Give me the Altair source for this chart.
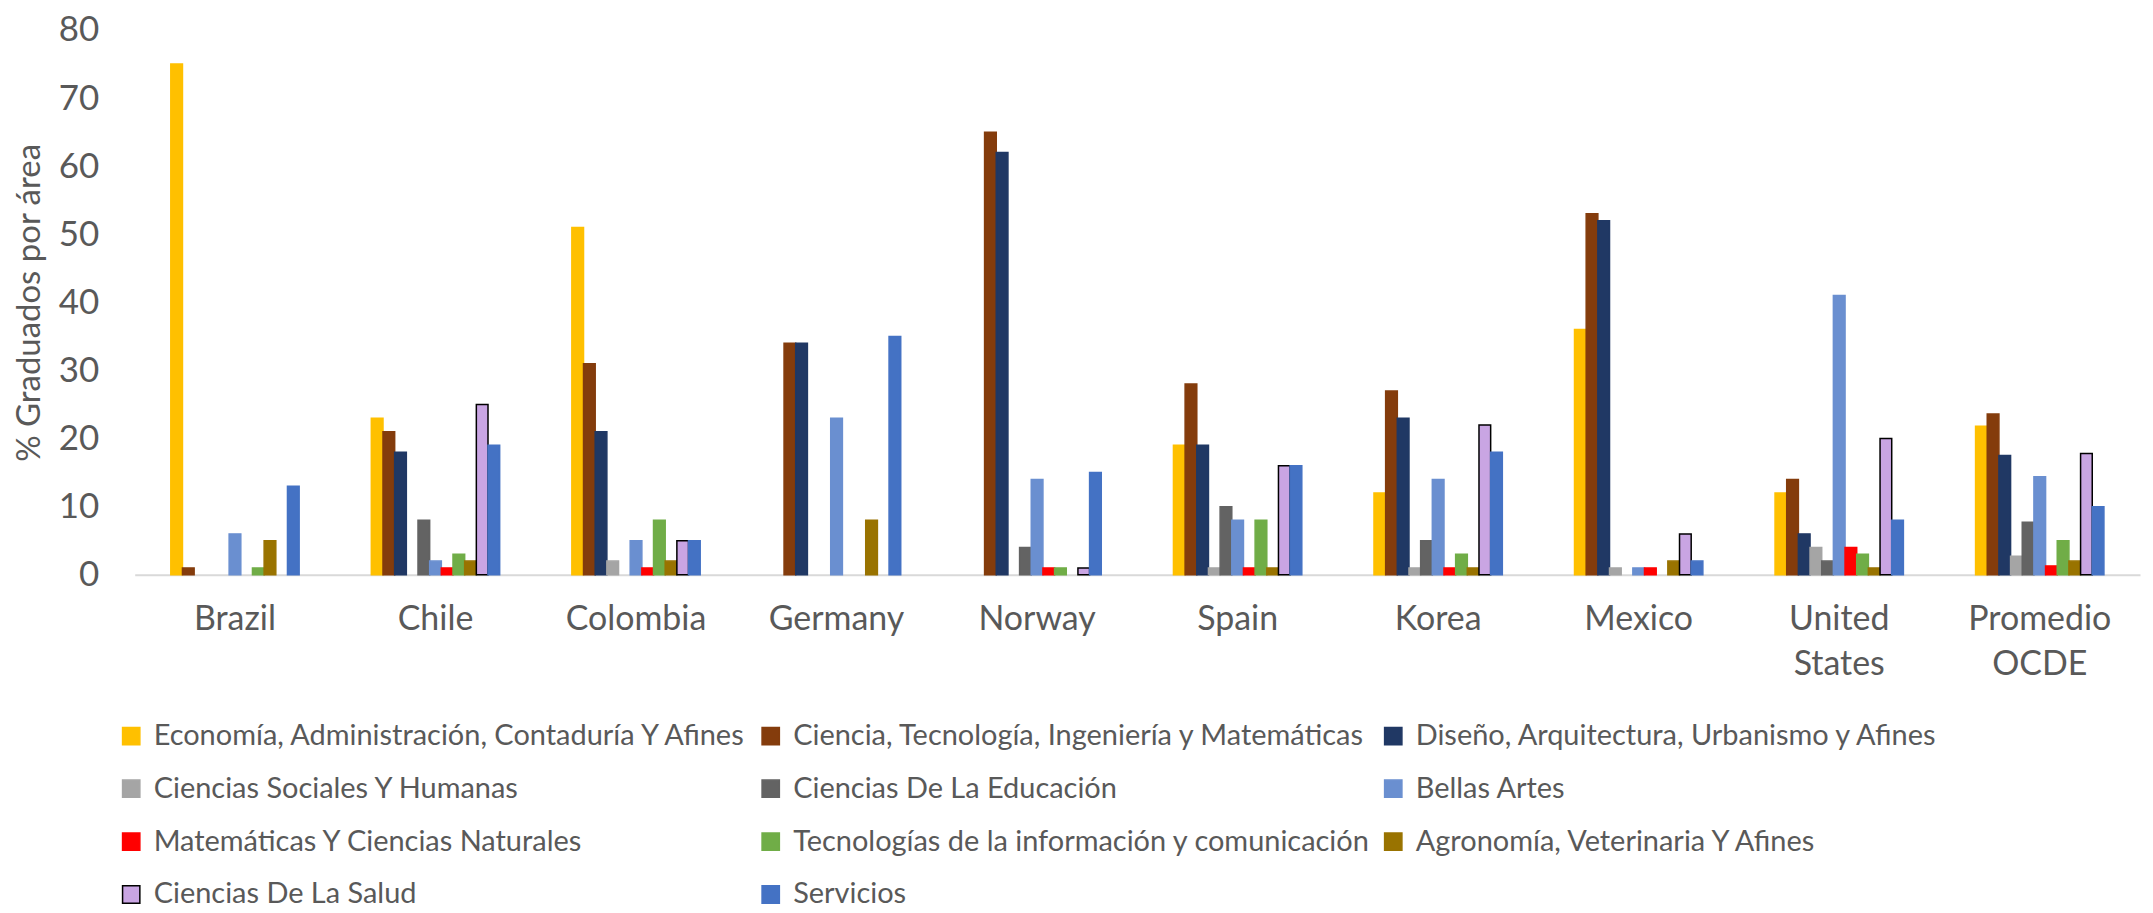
import altair as alt
import pandas as pd

countries = ["Brazil", "Chile", "Colombia", "Germany", "Norway", "Spain",
             "Korea", "Mexico", "United States", "Promedio OCDE"]

areas = [
    "Economía, Administración, Contaduría Y Afines",
    "Ciencia, Tecnología, Ingeniería y Matemáticas",
    "Diseño, Arquitectura, Urbanismo y Afines",
    "Ciencias Sociales Y Humanas",
    "Ciencias De La Educación",
    "Bellas Artes",
    "Matemáticas Y Ciencias Naturales",
    "Tecnologías de la información y comunicación",
    "Agronomía, Veterinaria Y Afines",
    "Ciencias De La Salud",
    "Servicios",
]

economia   = [75, 23, 51, 0, 0, 19, 12, 36, 12, 21.8]
ciencia    = [1, 21, 31, 34, 65, 28, 27, 53, 14, 23.6]
diseno     = [0, 18, 21, 34, 62, 19, 23, 52, 6, 17.5]
sociales   = [0, 0, 2, 0, 0, 1, 1, 1, 4, 2.7]
educacion  = [0, 8, 0, 0, 4, 10, 5, 0, 2, 7.7]
bellas     = [6, 2, 5, 23, 14, 8, 14, 1, 41, 14.4]
matematica = [0, 1, 1, 0, 1, 1, 1, 1, 4, 1.3]
tic        = [1, 3, 8, 0, 1, 8, 3, 0, 3, 5]
agronomia  = [5, 2, 2, 8, 0, 1, 1, 2, 1, 2]
salud      = [0, 25, 5, 0, 1, 16, 22, 6, 20, 17.8]
servicios  = [13, 19, 5, 35, 15, 16, 18, 2, 8, 10]

series = [economia, ciencia, diseno, sociales, educacion, bellas,
          matematica, tic, agronomia, salud, servicios]

fills = ["#FFC000", "#843C0C", "#203864", "#A5A5A5", "#636363", "#6A8FD0",
         "#FF0000", "#70AD47", "#997300", "#C9A5E3", "#4472C4"]
strokes = ["#FFC000", "#843C0C", "#203864", "#A5A5A5", "#636363", "#6A8FD0",
           "#FF0000", "#70AD47", "#997300", "#000000", "#4472C4"]

rows = []
for a, vals in zip(areas, series):
    for c, v in zip(countries, vals):
        if v > 0:
            rows.append({"pais": c, "area": a, "valor": v})
df = pd.DataFrame(rows)

FONT = "Lato"
GREY = "#595959"

legend = alt.Legend(
    title=None, orient="none", legendX=-18, legendY=693, columns=3,
    direction="horizontal",
    symbolType="square", symbolSize=300, symbolStrokeWidth=1.5,
    labelFontSize=29, labelFont=FONT, labelColor=GREY, labelLimit=2000,
    labelOffset=8, columnPadding=8, rowPadding=23, padding=0,
)

chart = alt.Chart(df).mark_bar(strokeWidth=1.5).encode(
    x=alt.X("pais:N", sort=countries, title=None,
            scale=alt.Scale(paddingInner=0.36, paddingOuter=0.18),
            axis=alt.Axis(labelAngle=0, labelFontSize=34, labelFont=FONT,
                          labelColor=GREY, ticks=False, domainColor="#D9D9D9",
                          domainWidth=2, labelPadding=28, labelLineHeight=45,
                          labelExpr="split(datum.label, ' ')")),
    xOffset=alt.XOffset("area:N", sort=areas,
                        scale=alt.Scale(domain=areas, paddingInner=0, paddingOuter=0)),
    y=alt.Y("valor:Q", title="% Graduados por área",
            scale=alt.Scale(domain=[0, 80]),
            axis=alt.Axis(values=[0, 10, 20, 30, 40, 50, 60, 70, 80],
                          grid=False, ticks=False, domain=False,
                          labelFontSize=35, labelFont=FONT, labelColor=GREY,
                          labelPadding=36, titleFontSize=33, titleFont=FONT,
                          titleColor=GREY, titleFontWeight="normal",
                          titlePadding=12)),
    color=alt.Color("area:N", sort=areas,
                    scale=alt.Scale(domain=areas, range=fills), legend=legend),
    stroke=alt.Stroke("area:N", sort=areas,
                      scale=alt.Scale(domain=areas, range=strokes), legend=legend),
).properties(
    width=2010, height=546,
    padding={"left": 5, "top": 4, "right": 5, "bottom": 5},
).configure_view(stroke=None)

chart.save("out.html", embed_options={"renderer": "svg", "actions": False})
